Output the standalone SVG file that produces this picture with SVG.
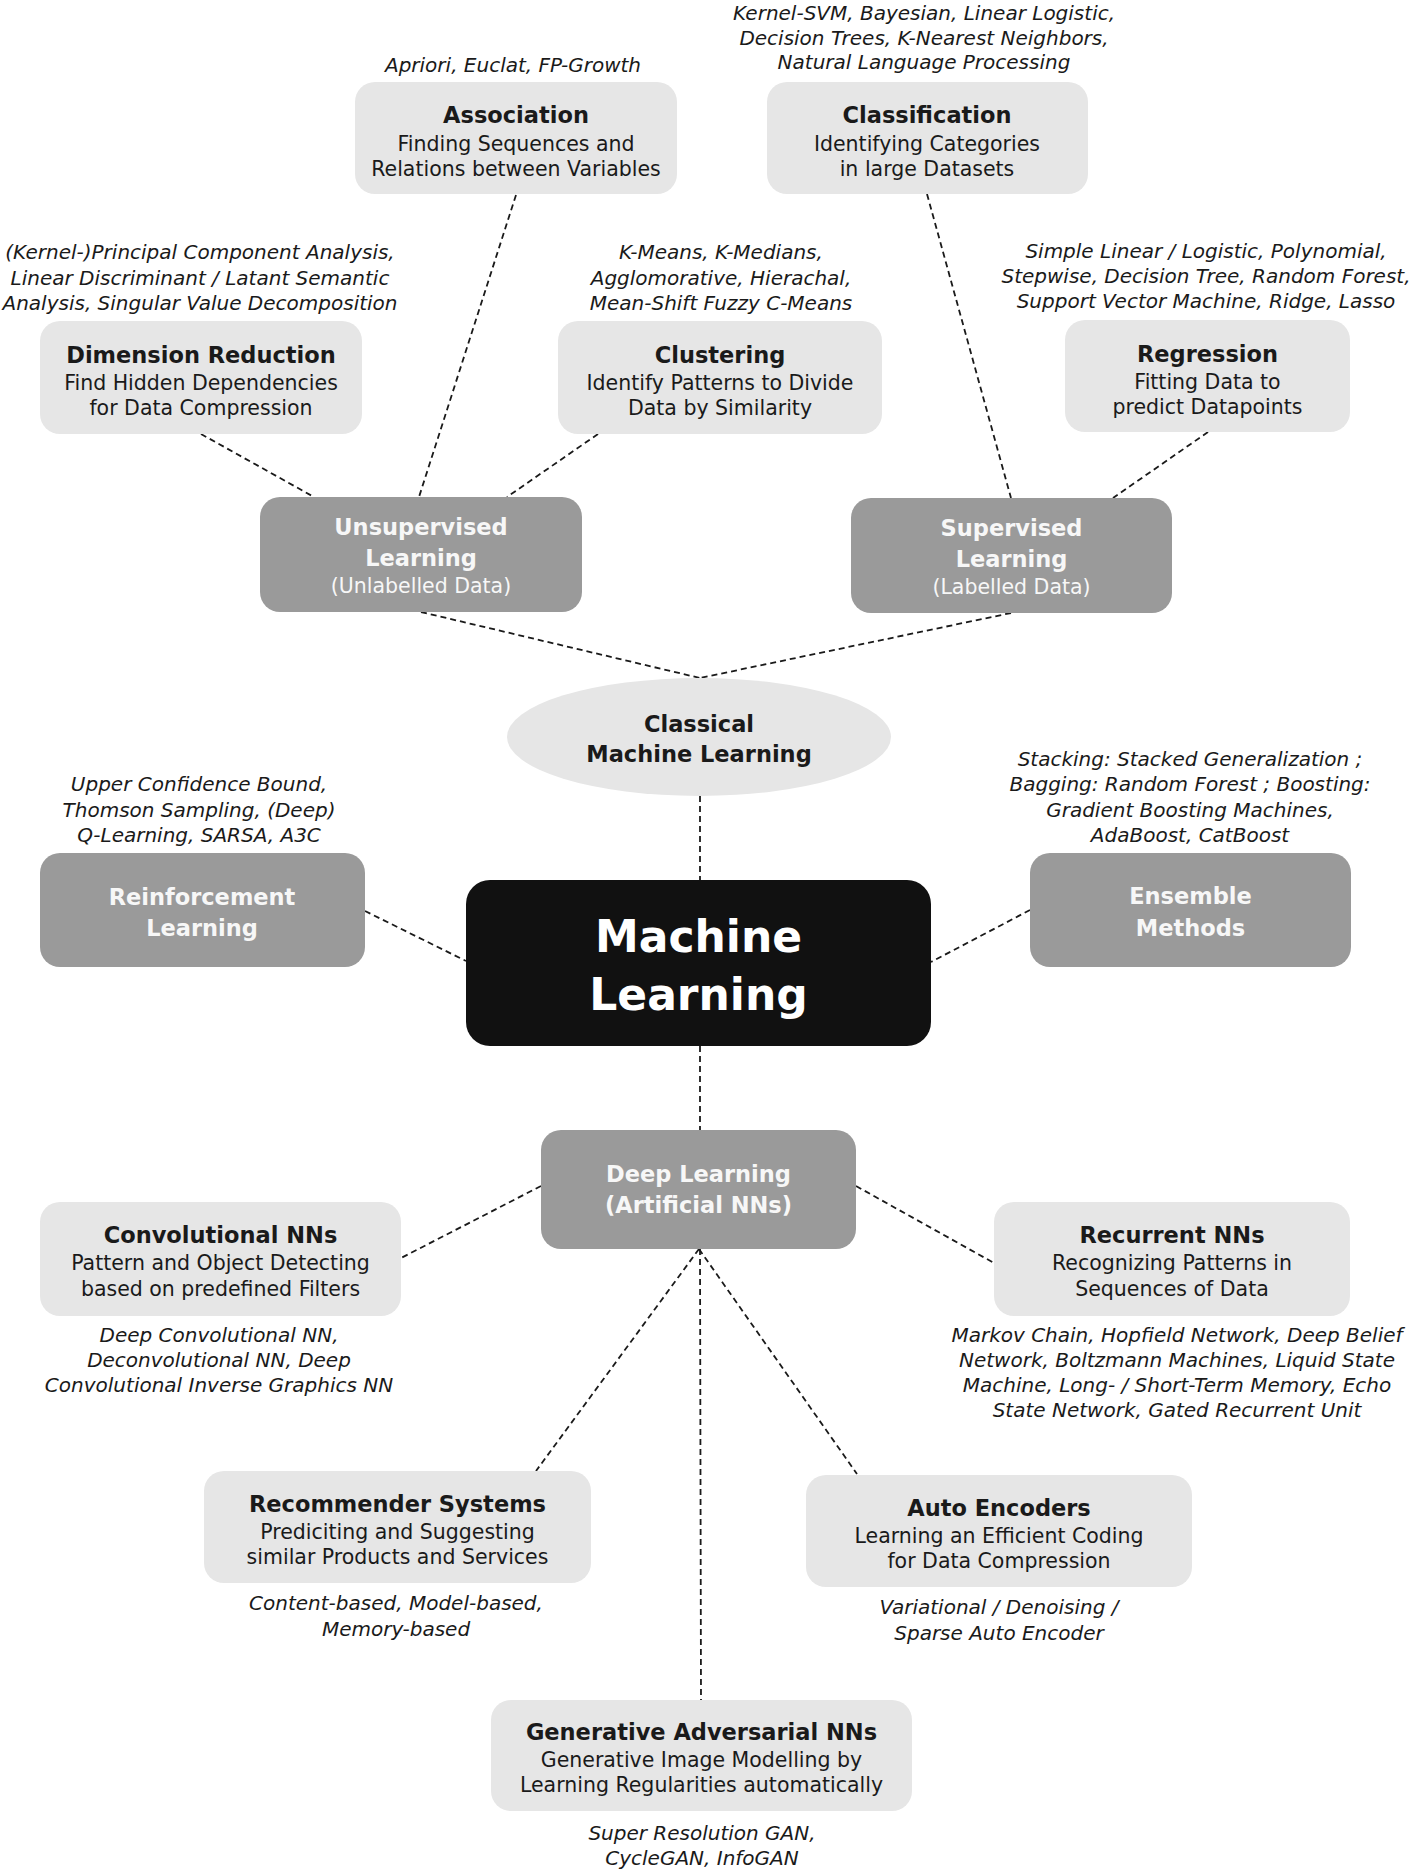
<svg xmlns="http://www.w3.org/2000/svg" width="1421" height="1871" viewBox="0 0 1421 1871">
<style>
  text { font-family: "DejaVu Sans", "Liberation Sans", sans-serif; text-anchor: middle; }
  .lt { fill: #e6e6e6; }
  .gr { fill: #9a9a9a; }
  .bk { fill: #111111; }
  .ti { font-size: 22.5px; font-weight: bold; fill: #1a1a1a; }
  .bd { font-size: 20.5px; fill: #1a1a1a; }
  .an { font-size: 20px; font-style: italic; fill: #1a1a1a; }
  .wt { font-size: 22.5px; font-weight: bold; fill: #f7f7f7; }
  .wr { font-size: 20.5px; fill: #f7f7f7; }
  .big { font-size: 44px; font-weight: bold; fill: #ffffff; }
  .conn line { stroke: #1a1a1a; stroke-width: 1.8; stroke-dasharray: 6 4; fill: none; }
</style>
<rect width="1421" height="1871" fill="#ffffff"/>

<g class="conn" id="connectors">
  <line x1="516" y1="195" x2="419" y2="497"/>
  <line x1="201" y1="434" x2="314" y2="497"/>
  <line x1="598" y1="434" x2="507" y2="497"/>
  <line x1="927" y1="194" x2="1011" y2="498"/>
  <line x1="1208" y1="432" x2="1113" y2="498"/>
  <line x1="421" y1="612" x2="700" y2="678"/>
  <line x1="1011" y1="613" x2="700" y2="678"/>
  <line x1="700" y1="796" x2="700" y2="880"/>
  <line x1="365" y1="911" x2="466" y2="961"/>
  <line x1="1030" y1="910" x2="931" y2="962"/>
  <line x1="700" y1="1046" x2="700" y2="1130"/>
  <line x1="541" y1="1186" x2="401" y2="1258"/>
  <line x1="856" y1="1186" x2="994" y2="1263"/>
  <line x1="699" y1="1249" x2="536" y2="1471"/>
  <line x1="699" y1="1249" x2="857" y2="1474"/>
  <line x1="700" y1="1249" x2="701" y2="1700"/>
</g>

<g id="association">
  <text class="an" x="513" y="72">Apriori, Euclat, FP-Growth</text>
  <rect class="lt" x="355" y="82" width="322" height="112" rx="20"/>
  <text class="ti" x="516" y="123">Association</text>
  <text class="bd" x="516" y="151">Finding Sequences and</text>
  <text class="bd" x="516" y="176">Relations between Variables</text>
</g>

<g id="classification">
  <text class="an" x="924" y="20">Kernel-SVM, Bayesian, Linear Logistic,</text>
  <text class="an" x="924" y="44.5">Decision Trees, K-Nearest Neighbors,</text>
  <text class="an" x="924" y="69">Natural Language Processing</text>
  <rect class="lt" x="767" y="82" width="321" height="112" rx="20"/>
  <text class="ti" x="927" y="123">Classification</text>
  <text class="bd" x="927" y="151">Identifying Categories</text>
  <text class="bd" x="927" y="176">in large Datasets</text>
</g>

<g id="dimension-reduction">
  <text class="an" x="200" y="259">(Kernel-)Principal Component Analysis,</text>
  <text class="an" x="200" y="284.5">Linear Discriminant / Latant Semantic</text>
  <text class="an" x="200" y="309.5">Analysis, Singular Value Decomposition</text>
  <rect class="lt" x="40" y="321" width="322" height="113" rx="20"/>
  <text class="ti" x="201" y="363">Dimension Reduction</text>
  <text class="bd" x="201" y="390">Find Hidden Dependencies</text>
  <text class="bd" x="201" y="414.5">for Data Compression</text>
</g>

<g id="clustering">
  <text class="an" x="721" y="259">K-Means, K-Medians,</text>
  <text class="an" x="721" y="284.5">Agglomorative, Hierachal,</text>
  <text class="an" x="721" y="309.5">Mean-Shift Fuzzy C-Means</text>
  <rect class="lt" x="558" y="321" width="324" height="113" rx="20"/>
  <text class="ti" x="720" y="363">Clustering</text>
  <text class="bd" x="720" y="390">Identify Patterns to Divide</text>
  <text class="bd" x="720" y="414.5">Data by Similarity</text>
</g>

<g id="regression">
  <text class="an" x="1206" y="258">Simple Linear / Logistic, Polynomial,</text>
  <text class="an" x="1206" y="283">Stepwise, Decision Tree, Random Forest,</text>
  <text class="an" x="1206" y="308">Support Vector Machine, Ridge, Lasso</text>
  <rect class="lt" x="1065" y="320" width="285" height="112" rx="20"/>
  <text class="ti" x="1207.5" y="362">Regression</text>
  <text class="bd" x="1207.5" y="389">Fitting Data to</text>
  <text class="bd" x="1207.5" y="414">predict Datapoints</text>
</g>

<g id="unsupervised">
  <rect class="gr" x="260" y="497" width="322" height="115" rx="20"/>
  <text class="wt" x="421" y="535">Unsupervised</text>
  <text class="wt" x="421" y="566">Learning</text>
  <text class="wr" x="421" y="593">(Unlabelled Data)</text>
</g>

<g id="supervised">
  <rect class="gr" x="851" y="498" width="321" height="115" rx="20"/>
  <text class="wt" x="1011.5" y="536">Supervised</text>
  <text class="wt" x="1011.5" y="567">Learning</text>
  <text class="wr" x="1011.5" y="594">(Labelled Data)</text>
</g>

<g id="classical-ml">
  <ellipse class="lt" cx="699" cy="737" rx="192" ry="59"/>
  <text class="ti" x="699" y="732">Classical</text>
  <text class="ti" x="699" y="762">Machine Learning</text>
</g>

<g id="reinforcement">
  <text class="an" x="199" y="791">Upper Confidence Bound,</text>
  <text class="an" x="199" y="816.5">Thomson Sampling, (Deep)</text>
  <text class="an" x="199" y="841.5">Q-Learning, SARSA, A3C</text>
  <rect class="gr" x="40" y="853" width="325" height="114" rx="20"/>
  <text class="wt" x="202" y="905">Reinforcement</text>
  <text class="wt" x="202" y="936">Learning</text>
</g>

<g id="machine-learning">
  <rect class="bk" x="466" y="880" width="465" height="166" rx="24"/>
  <text class="big" x="698.5" y="952">Machine</text>
  <text class="big" x="698.5" y="1010">Learning</text>
</g>

<g id="ensemble">
  <text class="an" x="1190" y="765.5">Stacking: Stacked Generalization ;</text>
  <text class="an" x="1190" y="791">Bagging: Random Forest ; Boosting:</text>
  <text class="an" x="1190" y="816.5">Gradient Boosting Machines,</text>
  <text class="an" x="1190" y="841.5">AdaBoost, CatBoost</text>
  <rect class="gr" x="1030" y="853" width="321" height="114" rx="20"/>
  <text class="wt" x="1190.5" y="904">Ensemble</text>
  <text class="wt" x="1190.5" y="936">Methods</text>
</g>

<g id="deep-learning">
  <rect class="gr" x="541" y="1130" width="315" height="119" rx="20"/>
  <text class="wt" x="698.5" y="1181.5">Deep Learning</text>
  <text class="wt" x="698.5" y="1213">(Artificial NNs)</text>
</g>

<g id="convolutional">
  <rect class="lt" x="40" y="1202" width="361" height="114" rx="20"/>
  <text class="ti" x="220.5" y="1243">Convolutional NNs</text>
  <text class="bd" x="220.5" y="1270">Pattern and Object Detecting</text>
  <text class="bd" x="220.5" y="1295.5">based on predefined Filters</text>
  <text class="an" x="219" y="1342">Deep Convolutional NN,</text>
  <text class="an" x="219" y="1367">Deconvolutional NN, Deep</text>
  <text class="an" x="219" y="1392">Convolutional Inverse Graphics NN</text>
</g>

<g id="recurrent">
  <rect class="lt" x="994" y="1202" width="356" height="114" rx="20"/>
  <text class="ti" x="1172" y="1243">Recurrent NNs</text>
  <text class="bd" x="1172" y="1270">Recognizing Patterns in</text>
  <text class="bd" x="1172" y="1295.5">Sequences of Data</text>
  <text class="an" x="1177" y="1342">Markov Chain, Hopfield Network, Deep Belief</text>
  <text class="an" x="1177" y="1367">Network, Boltzmann Machines, Liquid State</text>
  <text class="an" x="1177" y="1392">Machine, Long- / Short-Term Memory, Echo</text>
  <text class="an" x="1177" y="1417">State Network, Gated Recurrent Unit</text>
</g>

<g id="recommender">
  <rect class="lt" x="204" y="1471" width="387" height="112" rx="20"/>
  <text class="ti" x="397.5" y="1511.5">Recommender Systems</text>
  <text class="bd" x="397.5" y="1538.5">Prediciting and Suggesting</text>
  <text class="bd" x="397.5" y="1564">similar Products and Services</text>
  <text class="an" x="396" y="1610">Content-based, Model-based,</text>
  <text class="an" x="396" y="1636">Memory-based</text>
</g>

<g id="auto-encoders">
  <rect class="lt" x="806" y="1475" width="386" height="112" rx="20"/>
  <text class="ti" x="999" y="1515.5">Auto Encoders</text>
  <text class="bd" x="999" y="1542.5">Learning an Efficient Coding</text>
  <text class="bd" x="999" y="1568">for Data Compression</text>
  <text class="an" x="999" y="1614">Variational / Denoising /</text>
  <text class="an" x="999" y="1639.5">Sparse Auto Encoder</text>
</g>

<g id="gan">
  <rect class="lt" x="491" y="1700" width="421" height="111" rx="20"/>
  <text class="ti" x="701.5" y="1740">Generative Adversarial NNs</text>
  <text class="bd" x="701.5" y="1767">Generative Image Modelling by</text>
  <text class="bd" x="701.5" y="1792">Learning Regularities automatically</text>
  <text class="an" x="702" y="1839.5">Super Resolution GAN,</text>
  <text class="an" x="702" y="1864.5">CycleGAN, InfoGAN</text>
</g>
</svg>
